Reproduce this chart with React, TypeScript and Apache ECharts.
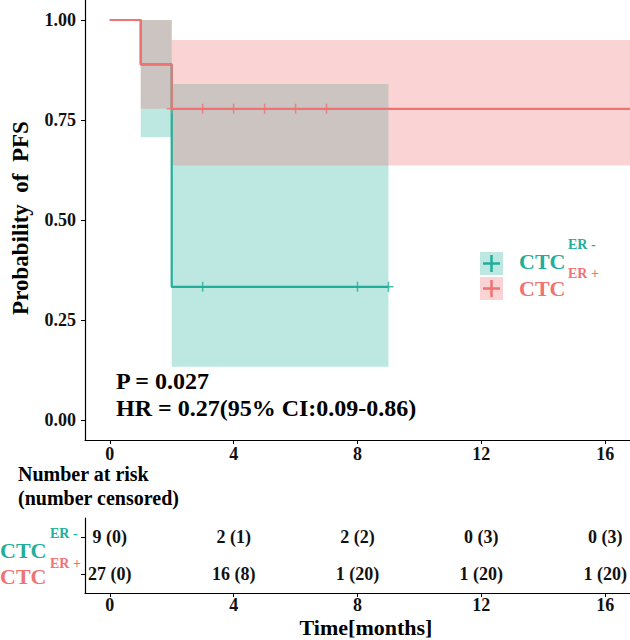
import React, { useEffect, useRef } from 'react';
import * as echarts from 'echarts';

// ---- Data ----
const timeTicks = [0, 4, 8, 12, 16];
const probTicks = [0, 0.25, 0.5, 0.75, 1];

// CTC ER- (teal): step curve
const erNegTimes = [0, 1, 2, 9];
const erNegSurv = [1, 0.889, 0.333, 0.333];
const erNegCensor = [3, 8, 9];
const erNegCiStart = [1, 2];
const erNegCiEnd = [2, 9];
const erNegCiLow = [0.707, 0.133];
const erNegCiHigh = [1.0, 0.84];

// CTC ER+ (red): step curve
const erPosTimes = [0, 1, 2, 17];
const erPosSurv = [1, 0.889, 0.778, 0.778];
const erPosCensor = [2, 3, 4, 5, 6, 7];
const erPosCiStart = [1, 2];
const erPosCiEnd = [2, 17];
const erPosCiLow = [0.778, 0.636];
const erPosCiHigh = [1.0, 0.95];

// Number at risk table
const riskRows = ['ER+', 'ER-'];
const erNegRisk = ['9 (0)', '2 (1)', '2 (2)', '0 (3)', '0 (3)'];
const erPosRisk = ['27 (0)', '16 (8)', '1 (20)', '1 (20)', '1 (20)'];

const pText = 'P = 0.027';
const hrText = 'HR = 0.27(95% CI:0.09-0.86)';

// ---- Styles ----
const TEAL = '#22AE9A';
const RED = '#F07373';
const TEAL_BAND = 'rgba(35,178,158,0.3)';
const RED_BAND = 'rgba(238,112,112,0.3)';
const FONT = "'Liberation Serif', 'DejaVu Serif', serif";
const PLUS = 'path://M4.25,0h1.5v4.25h4.25v1.5h-4.25v4.25h-1.5v-4.25h-4.25v-1.5h4.25z';

function stepPoints(times: number[], surv: number[]) {
  const pts: number[][] = [];
  for (let i = 0; i < times.length; i++) {
    pts.push([times[i], surv[i]]);
    if (i + 1 < times.length) pts.push([times[i + 1], surv[i]]);
  }
  return pts;
}
function survAt(times: number[], surv: number[], t: number) {
  let s = surv[0];
  for (let i = 0; i < times.length; i++) if (times[i] <= t) s = surv[i];
  return s;
}
function bands(s: number[], e: number[], lo: number[], hi: number[]) {
  return s.map((v, i) => [v, e[i], lo[i], hi[i]]);
}

function bandSeries(data: number[][], fill: string) {
  return {
    type: 'custom',
    xAxisIndex: 0,
    yAxisIndex: 0,
    silent: true,
    z: 1,
    renderItem: (params: any, api: any) => {
      const p1 = api.coord([api.value(0), api.value(3)]);
      const p2 = api.coord([api.value(1), api.value(2)]);
      const shape = echarts.graphic.clipRectByRect(
        { x: p1[0], y: p1[1], width: p2[0] - p1[0], height: p2[1] - p1[1] },
        { x: params.coordSys.x, y: params.coordSys.y, width: params.coordSys.width, height: params.coordSys.height }
      );
      return shape ? { type: 'rect', shape, style: { fill } } : null;
    },
    encode: { x: [0, 1], y: [2, 3] },
    data,
  };
}

function riskSeries(row: string, texts: string[]) {
  return {
    type: 'custom',
    xAxisIndex: 1,
    yAxisIndex: 1,
    silent: true,
    renderItem: (params: any, api: any) => {
      const p = api.coord([api.value(0), row]);
      return {
        type: 'text',
        x: p[0],
        y: p[1],
        style: {
          text: texts[params.dataIndex],
          textAlign: 'center',
          textVerticalAlign: 'middle',
          font: `bold 18px ${FONT}`,
          fill: '#111',
        },
      };
    },
    data: timeTicks.map((t) => [t]),
  };
}

const txt = (text: string, x: number, y: number, size: number, fill = '#000', align = 'left', extra: any = {}) => ({
  type: 'text',
  x,
  y,
  ...extra,
  style: { text, fill, font: `bold ${size}px ${FONT}`, textAlign: align, textVerticalAlign: 'middle' },
});

const axisLine = { show: true, onZero: false, lineStyle: { color: '#000', width: 1.2 } };

export default function App() {
  const ref = useRef<HTMLDivElement>(null);
  useEffect(() => {
    if (!ref.current) return;
    const chart = echarts.init(ref.current, undefined, { renderer: 'svg' });
    const axisLabelStyle = { color: '#111', fontSize: 18, fontWeight: 'bold', fontFamily: FONT };
    const option: any = {
      animation: false,
      grid: [
        { left: 85, top: 0, width: 545, height: 440 },
        { left: 85, top: 518, width: 545, height: 75 },
      ],
      xAxis: [
        {
          type: 'value', gridIndex: 0, min: -0.8, max: 16.8,
          axisLine,
          axisTick: { show: true, length: 4, customValues: timeTicks, lineStyle: { color: '#000' } },
          axisLabel: { ...axisLabelStyle, customValues: timeTicks, margin: 5 },
          splitLine: { show: false },
        },
        {
          type: 'value', gridIndex: 1, min: -0.8, max: 16.8,
          axisLine,
          axisTick: { show: true, length: 4, customValues: timeTicks, lineStyle: { color: '#000' } },
          axisLabel: { ...axisLabelStyle, customValues: timeTicks, margin: 3 },
          splitLine: { show: false },
        },
      ],
      yAxis: [
        {
          type: 'value', gridIndex: 0, min: -0.05, max: 1.05,
          axisLine,
          axisTick: { show: true, length: 4, customValues: probTicks, lineStyle: { color: '#000' } },
          axisLabel: { ...axisLabelStyle, customValues: probTicks, margin: 9, formatter: (v: number) => v.toFixed(2) },
          splitLine: { show: false },
        },
        {
          type: 'category', gridIndex: 1, data: riskRows,
          axisLine,
          axisTick: { show: true, length: 4, alignWithLabel: true, lineStyle: { color: '#000' } },
          axisLabel: { show: false },
          splitLine: { show: false },
        },
      ],
      series: [
        bandSeries(bands(erNegCiStart, erNegCiEnd, erNegCiLow, erNegCiHigh), TEAL_BAND),
        bandSeries(bands(erPosCiStart, erPosCiEnd, erPosCiLow, erPosCiHigh), RED_BAND),
        {
          type: 'line', xAxisIndex: 0, yAxisIndex: 0, z: 3, showSymbol: false, clip: true,
          lineStyle: { color: TEAL, width: 2.2 }, data: stepPoints(erNegTimes, erNegSurv),
        },
        {
          type: 'line', xAxisIndex: 0, yAxisIndex: 0, z: 4, showSymbol: false, clip: true,
          lineStyle: { color: RED, width: 2.2 }, data: stepPoints(erPosTimes, erPosSurv),
        },
        {
          type: 'scatter', xAxisIndex: 0, yAxisIndex: 0, z: 5, symbol: PLUS, symbolSize: 10,
          itemStyle: { color: TEAL }, data: erNegCensor.map((t) => [t, survAt(erNegTimes, erNegSurv, t)]),
        },
        {
          type: 'scatter', xAxisIndex: 0, yAxisIndex: 0, z: 5, symbol: PLUS, symbolSize: 10,
          itemStyle: { color: RED }, data: erPosCensor.map((t) => [t, survAt(erPosTimes, erPosSurv, t)]),
        },
        riskSeries('ER-', erNegRisk),
        riskSeries('ER+', erPosRisk),
      ],
      graphic: [
        txt('Probability\u00A0\u00A0of\u00A0\u00A0PFS', 20, 218, 23, '#000', 'center', { rotation: Math.PI / 2 }),
        txt(pText, 116, 381, 24),
        txt(hrText, 116, 408, 24),
        // legend
        { type: 'rect', shape: { x: 480, y: 252, width: 23, height: 23 }, style: { fill: TEAL_BAND } },
        { type: 'line', shape: { x1: 483, y1: 263.5, x2: 500, y2: 263.5 }, style: { stroke: TEAL, lineWidth: 2.5 } },
        { type: 'line', shape: { x1: 491.5, y1: 255, x2: 491.5, y2: 272 }, style: { stroke: TEAL, lineWidth: 2.5 } },
        { type: 'rect', shape: { x: 480, y: 277, width: 23, height: 23 }, style: { fill: RED_BAND } },
        { type: 'line', shape: { x1: 483, y1: 288.5, x2: 500, y2: 288.5 }, style: { stroke: RED, lineWidth: 2.5 } },
        { type: 'line', shape: { x1: 491.5, y1: 280, x2: 491.5, y2: 297 }, style: { stroke: RED, lineWidth: 2.5 } },
        txt('CTC', 519, 261, 22, TEAL),
        txt('ER -', 568, 244, 14, TEAL),
        txt('CTC', 519, 288, 22, RED),
        txt('ER +', 568, 273, 14, RED),
        // risk table headings
        txt('Number at risk', 18, 474, 20),
        txt('(number censored)', 18, 498, 20),
        txt('CTC', 0, 550, 22, TEAL),
        txt('ER -', 50, 533, 14, TEAL),
        txt('CTC', 0, 576, 22, RED),
        txt('ER +', 50, 563, 14, RED),
        txt('Time[months]', 366, 627, 22, '#000', 'center'),
      ],
    };
    chart.setOption(option);
    return () => chart.dispose();
  }, []);
  return <div ref={ref} style={{ position: 'fixed', left: 0, top: 0, width: 630, height: 640, background: '#fff' }} />;
}
